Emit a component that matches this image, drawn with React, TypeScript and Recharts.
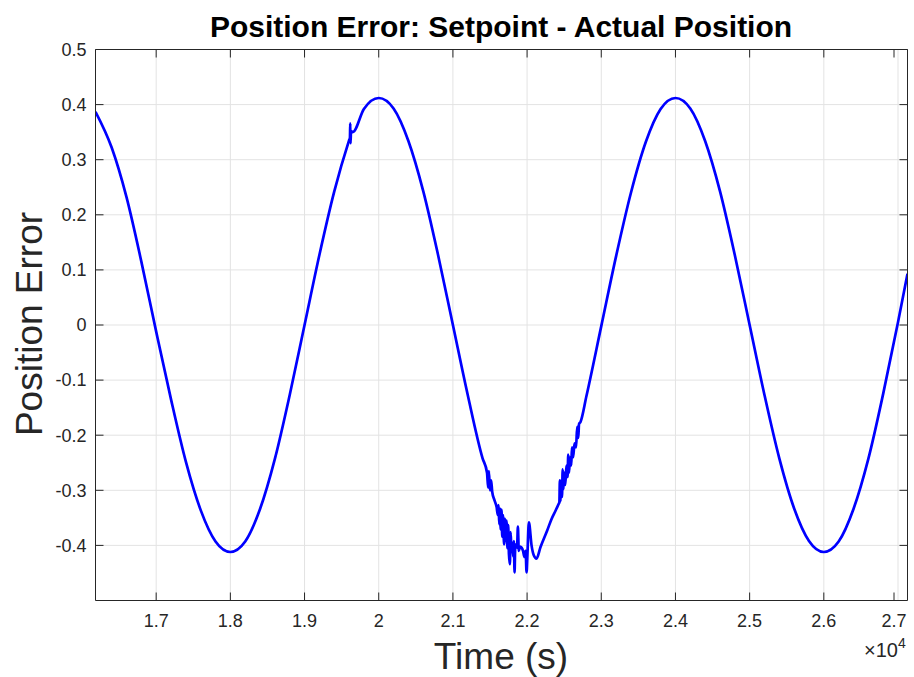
import { LineChart, Line, XAxis, YAxis, CartesianGrid } from "recharts";

// time in seconds, error
const times = [
  16182, 16400, 16600, 16800, 17000, 17200, 17400, 17600, 17800, 18000,
  18200, 18400, 18600, 18800, 19000, 19200, 19400, 19600, 19612, 19616,
  19620, 19626, 19650, 19800, 20000, 20200, 20400, 20600, 20800, 21000,
  21200, 21400, 21460, 21475, 21485, 21500, 21515, 21530, 21560, 21590,
  21605, 21615, 21625, 21635, 21645, 21655, 21665, 21675, 21690, 21700,
  21712, 21722, 21735, 21745, 21755, 21768, 21778, 21790, 21800, 21812,
  21822, 21831, 21840, 21852, 21865, 21876, 21888, 21905, 21925, 21945,
  21965, 21980, 21993, 22005, 22024, 22060, 22090, 22127, 22181, 22271,
  22330, 22380, 22428, 22435, 22442, 22450, 22460, 22470, 22480, 22490,
  22500, 22515, 22530, 22545, 22555, 22565, 22580, 22595, 22605, 22620,
  22640, 22660, 22675, 22690, 22700, 22720, 22800, 23000, 23200, 23400,
  23600, 23800, 24000, 24200, 24400, 24600, 24800, 25000, 25200, 25400,
  25600, 25800, 26000, 26200, 26400, 26600, 26800, 27000, 27128,
];

const errors = [
  0.387, 0.322, 0.232, 0.115, -0.012, -0.135, -0.248, -0.336, -0.393, -0.412,
  -0.393, -0.334, -0.243, -0.127, 0.0, 0.127, 0.242, 0.335, 0.34, 0.366,
  0.33, 0.352, 0.35, 0.392, 0.412, 0.393, 0.334, 0.243, 0.127, 0.0,
  -0.127, -0.242, -0.268, -0.295, -0.265, -0.3, -0.282, -0.303, -0.318, -0.331,
  -0.345, -0.327, -0.362, -0.333, -0.371, -0.335, -0.384, -0.345, -0.398, -0.352,
  -0.392, -0.355, -0.405, -0.363, -0.415, -0.434, -0.376, -0.41, -0.395, -0.42,
  -0.392, -0.449, -0.403, -0.398, -0.404, -0.366, -0.41, -0.402, -0.404, -0.41,
  -0.421, -0.41, -0.449, -0.415, -0.358, -0.4, -0.418, -0.424, -0.403, -0.373,
  -0.352, -0.338, -0.324, -0.322, -0.282, -0.32, -0.29, -0.312, -0.262, -0.298,
  -0.268, -0.29, -0.255, -0.276, -0.235, -0.268, -0.24, -0.255, -0.222, -0.24,
  -0.215, -0.222, -0.185, -0.205, -0.18, -0.176, -0.129, -0.002, 0.125, 0.24,
  0.332, 0.392, 0.412, 0.393, 0.334, 0.243, 0.127, 0.0, -0.127, -0.242,
  -0.333, -0.392, -0.412, -0.393, -0.334, -0.243, -0.125, 0.005, 0.093,
];

const xTicks = [17000, 18000, 19000, 20000, 21000, 22000, 23000, 24000, 25000, 26000, 27000];
const yTicks = [-0.4, -0.3, -0.2, -0.1, 0, 0.1, 0.2, 0.3, 0.4, 0.5];

const data = times.map((t, i) => ({ t, err: errors[i] }));

const FONT = "'Liberation Sans', Arial, Helvetica, sans-serif";
const AXIS = "#262626";
const TICK_LEN = 8;

// MATLAB-style ticks point into the plot box
const BottomTick = (props: any) => {
  const { x, y, payload } = props;
  const ay = y - 14;
  return (
    <g>
      <line x1={x} y1={ay} x2={x} y2={ay - TICK_LEN} stroke={AXIS} />
      <text x={x} y={y} dy="0.71em" textAnchor="middle" fontSize={18} fill={AXIS} fontFamily={FONT}>
        {String(payload.value / 10000)}
      </text>
    </g>
  );
};

const LeftTick = (props: any) => {
  const { x, y, payload } = props;
  const ax = x + 9;
  return (
    <g>
      <line x1={ax} y1={y} x2={ax + TICK_LEN} y2={y} stroke={AXIS} />
      <text x={x} y={y} dy="0.355em" textAnchor="end" fontSize={18} fill={AXIS} fontFamily={FONT}>
        {String(payload.value)}
      </text>
    </g>
  );
};

const TopTick = (props: any) => {
  const { x, y } = props;
  return <line x1={x} y1={y} x2={x} y2={y + TICK_LEN} stroke={AXIS} />;
};

const RightTick = (props: any) => {
  const { x, y } = props;
  return <line x1={x} y1={y} x2={x - TICK_LEN} y2={y} stroke={AXIS} />;
};

const xLabel = () => (
  <g fontFamily={FONT} fill={AXIS}>
    <text x={501} y={669} textAnchor="middle" fontSize={37}>
      Time (s)
    </text>
    <text x={864} y={657} fontSize={20}>
      ×10
    </text>
    <text x={898} y={648} fontSize={14}>
      4
    </text>
  </g>
);

const yLabel = () => (
  <g fontFamily={FONT}>
    <text
      x={42}
      y={324}
      transform="rotate(-90, 42, 324)"
      textAnchor="middle"
      fontSize={37}
      fill={AXIS}
    >
      Position Error
    </text>
    <text x={501} y={37} textAnchor="middle" fontSize={30} fontWeight="bold" fill="#000">
      Position Error: Setpoint - Actual Position
    </text>
  </g>
);

export default function App() {
  return (
    <div style={{ position: "absolute", left: 0, top: 0, width: 914, height: 677, background: "#fff" }}>
      <LineChart width={914} height={677} data={data} margin={{ top: 48.5, right: 5.5, bottom: 0, left: 0 }}>
        <CartesianGrid stroke="#e3e3e3" strokeWidth={1} />
        <XAxis
          dataKey="t"
          type="number"
          domain={[16182, 27128]}
          ticks={xTicks}
          allowDataOverflow
          height={76.5}
          tickSize={0}
          tickMargin={14}
          tick={BottomTick}
          axisLine={{ stroke: AXIS }}
          label={xLabel}
        />
        <XAxis
          xAxisId="top"
          orientation="top"
          dataKey="t"
          type="number"
          domain={[16182, 27128]}
          ticks={xTicks}
          allowDataOverflow
          height={1}
          tickSize={0}
          tickMargin={0}
          tick={TopTick}
          axisLine={{ stroke: AXIS }}
        />
        <YAxis
          type="number"
          domain={[-0.5, 0.5]}
          ticks={yTicks}
          allowDataOverflow
          width={95.5}
          tickSize={0}
          tickMargin={9}
          tick={LeftTick}
          axisLine={{ stroke: AXIS }}
          label={yLabel}
        />
        <YAxis
          yAxisId="right"
          orientation="right"
          type="number"
          domain={[-0.5, 0.5]}
          ticks={yTicks}
          allowDataOverflow
          width={1}
          tickSize={0}
          tickMargin={0}
          tick={RightTick}
          axisLine={{ stroke: AXIS }}
        />
        <Line
          type="monotone"
          dataKey="err"
          stroke="#0000ff"
          strokeWidth={2.7}
          dot={false}
          isAnimationActive={false}
        />
      </LineChart>
    </div>
  );
}
